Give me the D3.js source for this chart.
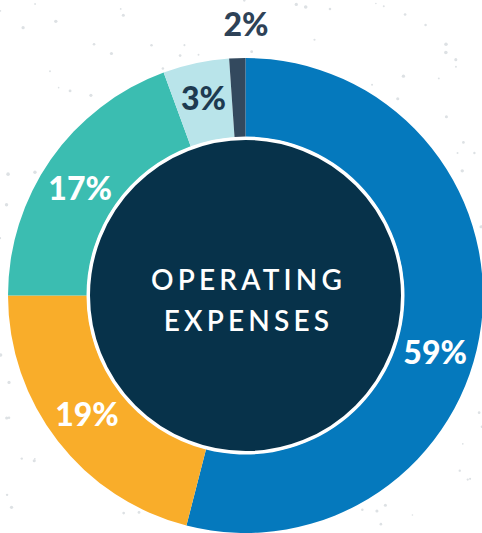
<!DOCTYPE html>
<html>
<head>
<meta charset="utf-8">
<script src="https://cdn.jsdelivr.net/npm/d3@7"></script>
<style>
  body { margin: 0; background: #fff; }
  svg { display: block; }
</style>
</head>
<body>
<div id="chart"></div>
<script>
// slice sizes as drawn (share of the ring), with the printed labels
var categories = ["a", "b", "c", "d", "e"];
var shares = [54.0, 21.0, 19.4, 4.5, 1.1];
var labels = ["59%", "19%", "17%", "3%", "2%"];
var colors = ["#0579bd", "#f9ad2a", "#3bbdb1", "#b9e4ea", "#33495e"];
var labelColors = ["#fff", "#fff", "#fff", "#1d3a50", "#2e4257"];
var centerLines = ["OPERATING", "EXPENSES"];

var width = 482, height = 533;
var cx = 245.5, cy = 295.5;
var outerR = 237.5, innerR = 159;

var svg = d3.select("#chart").append("svg")
    .attr("width", width)
    .attr("height", height);

// faint speckles in the background
var seed = 11;
function rnd() { seed = (seed * 16807) % 2147483647; return (seed - 1) / 2147483646; }
var dots = svg.append("g");
for (var i = 0; i < 220; i++) {
    var px = rnd() * width, py = rnd() * height;
    var dd = Math.hypot(px - cx, py - cy);
    if (dd < outerR + 4) continue;
    dots.append("circle")
        .attr("cx", px).attr("cy", py)
        .attr("r", 0.8 + rnd() * 1.0)
        .attr("fill", "#dde1e4");
}

var g = svg.append("g")
    .attr("transform", "translate(" + cx + "," + cy + ")");

var pie = d3.pie().sort(null).value(function(d) { return d; });
var arcs = pie(shares);

var arc = d3.arc().innerRadius(innerR).outerRadius(outerR);

g.selectAll("path.slice")
    .data(arcs)
  .enter().append("path")
    .attr("class", "slice")
    .attr("d", arc)
    .attr("fill", function(d, i) { return colors[i]; });

// dark centre disc with white rim
g.append("circle")
    .attr("r", 157)
    .attr("fill", "#07324a")
    .attr("stroke", "#fff")
    .attr("stroke-width", 3);

// label placement: mid ring, small angular nudge (degrees); last one sits outside
var labelR = [198, 198, 197, 201, 271];
var labelNudge = [9.5, 1, -2, 0, 2.1];

g.selectAll("text.pct")
    .data(arcs)
  .enter().append("text")
    .attr("class", "pct")
    .attr("transform", function(d, i) {
        var a = (d.startAngle + d.endAngle) / 2 + labelNudge[i] * Math.PI / 180;
        var r = labelR[i];
        return "translate(" + (Math.sin(a) * r) + "," + (-Math.cos(a) * r) + ")";
    })
    .attr("text-anchor", "middle")
    .attr("dy", "0.36em")
    .style("font-family", "Lato, 'Noto Sans', sans-serif")
    .style("font-weight", "900")
    .style("font-size", "32px")
    .attr("fill", function(d, i) { return labelColors[i]; })
    .text(function(d, i) { return labels[i]; });

g.selectAll("text.center")
    .data(centerLines)
  .enter().append("text")
    .attr("class", "center")
    .attr("x", 3)
    .attr("y", function(d, i) { return -5.5 + i * 41; })
    .attr("text-anchor", "middle")
    .style("font-family", "Lato, 'Noto Sans', sans-serif")
    .style("font-weight", "600")
    .style("font-size", "28px")
    .style("letter-spacing", "4.2px")
    .attr("fill", "#fff")
    .text(function(d) { return d; });
</script>
</body>
</html>
